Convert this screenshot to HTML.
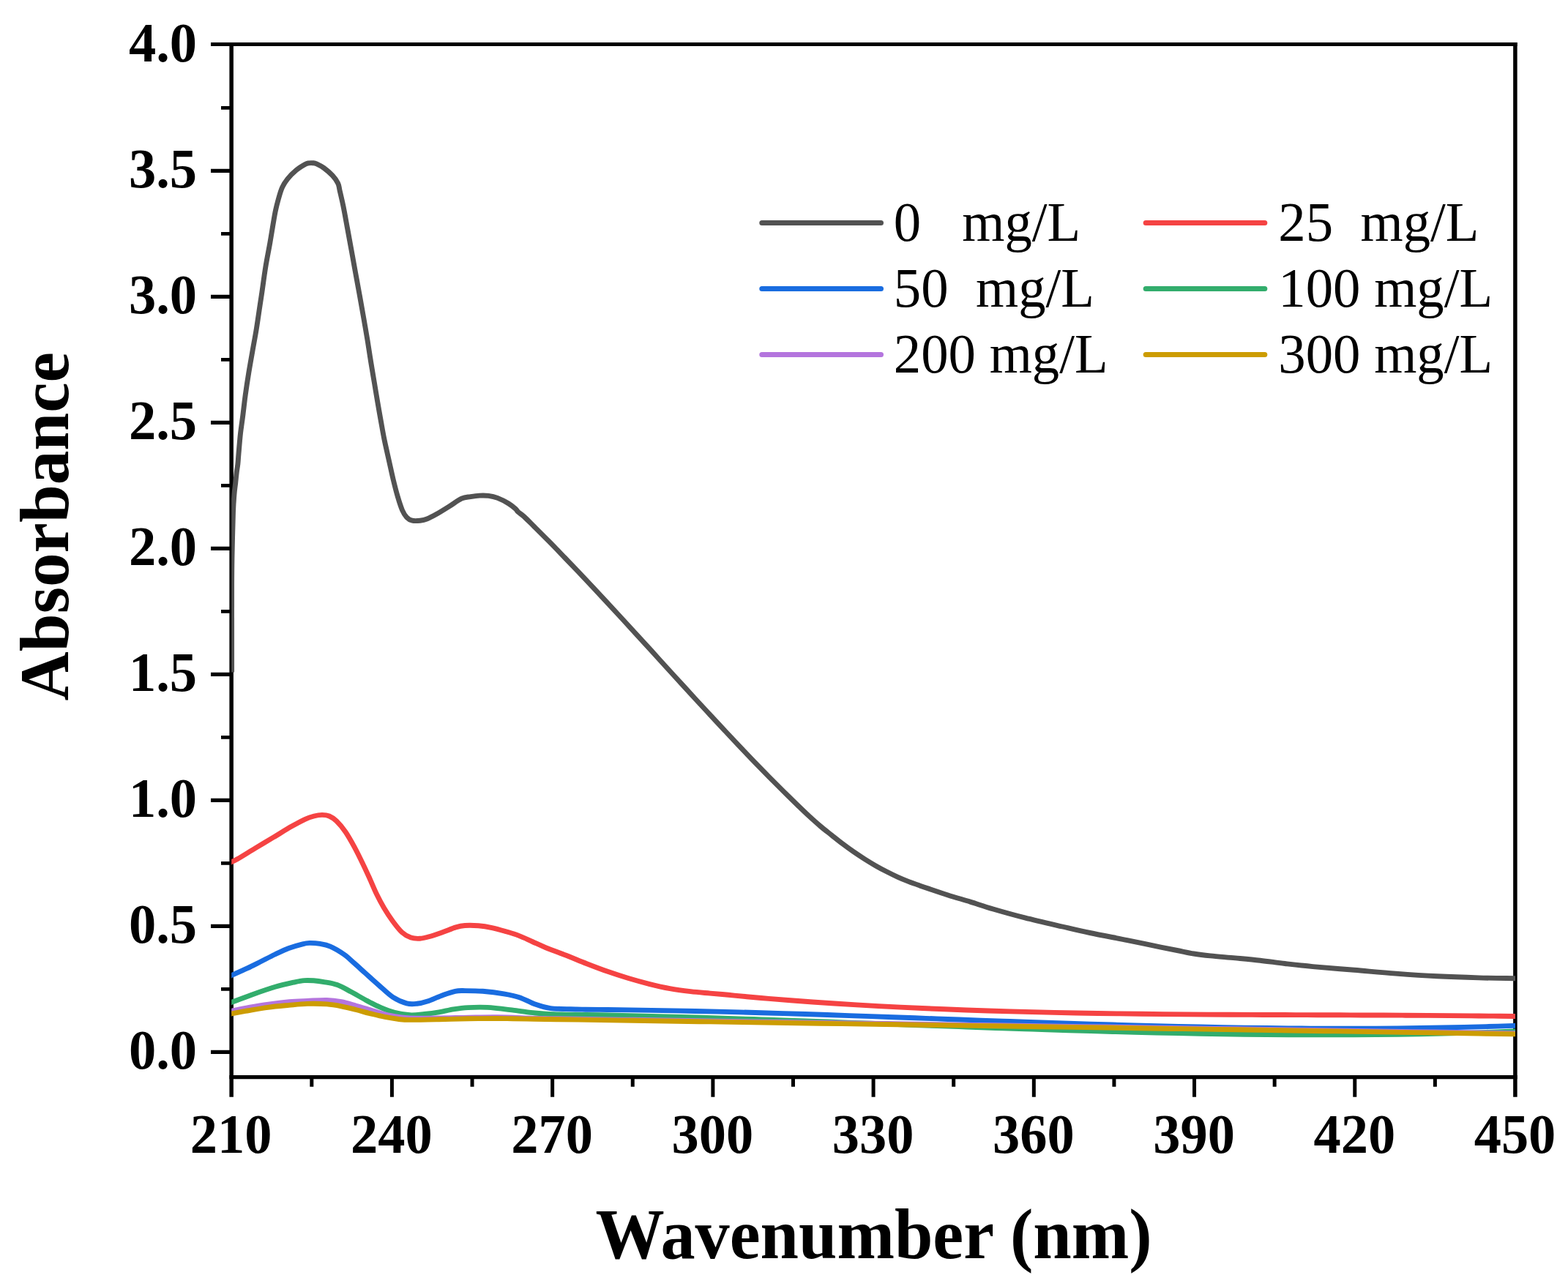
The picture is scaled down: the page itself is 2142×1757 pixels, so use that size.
<!DOCTYPE html>
<html><head><meta charset="utf-8"><title>Absorbance spectra</title>
<style>
html,body{margin:0;padding:0;background:#fff;}
body{width:2142px;height:1757px;overflow:hidden;}
svg{display:block;}
</style></head><body>
<svg xmlns="http://www.w3.org/2000/svg" width="2142" height="1757" viewBox="0 0 2142 1757">
<rect x="0" y="0" width="2142" height="1757" fill="#fff"/>
<path d="M288,60.5H2072.65M313.4,1471.6H2072.65" stroke="#000" stroke-width="5.1" fill="none"/>
<path d="M316.15,57.95V1498.8M2069.90,57.95V1498.8" stroke="#000" stroke-width="5.5" fill="none"/>
<path d="M288,1437.40H316.15M288,1265.40H316.15M288,1093.40H316.15M288,921.40H316.15M288,749.40H316.15M288,577.40H316.15M288,405.40H316.15M288,233.40H316.15" stroke="#000" stroke-width="5.3" fill="none"/>
<path d="M302,1351.40H316.15M302,1179.40H316.15M302,1007.40H316.15M302,835.40H316.15M302,663.40H316.15M302,491.40H316.15M302,319.40H316.15M302,147.40H316.15" stroke="#000" stroke-width="4.9" fill="none"/>
<path d="M425.81,1471.6V1484.70M535.42,1471.6V1498.80M645.04,1471.6V1484.70M754.65,1471.6V1498.80M864.26,1471.6V1484.70M973.88,1471.6V1498.80M1083.49,1471.6V1484.70M1193.10,1471.6V1498.80M1302.71,1471.6V1484.70M1412.33,1471.6V1498.80M1521.94,1471.6V1484.70M1631.55,1471.6V1498.80M1741.16,1471.6V1484.70M1850.78,1471.6V1498.80M1960.39,1471.6V1484.70" stroke="#000" stroke-width="5.0" fill="none"/>
<defs><clipPath id="pc"><rect x="316.20" y="60.50" width="1753.80" height="1411.00"/></clipPath></defs>
<g clip-path="url(#pc)">
<path d="M316.60,918.50C316.60,908.75 316.60,879.75 316.60,860.00C316.60,840.25 316.53,816.67 316.60,800.00C316.67,783.33 316.68,776.67 317.00,760.00C317.32,743.33 318.00,714.17 318.50,700.00C319.00,685.83 319.47,681.67 320.00,675.00C320.53,668.33 321.15,665.00 321.70,660.00C322.25,655.00 322.77,649.37 323.30,645.00C323.83,640.63 324.45,637.97 324.90,633.80C325.35,629.63 325.40,626.93 326.00,620.00C326.60,613.07 327.58,600.57 328.50,592.20C329.42,583.83 330.38,578.53 331.50,569.80C332.62,561.07 333.83,549.78 335.20,539.80C336.57,529.82 338.08,519.88 339.70,509.90C341.32,499.92 343.15,489.88 344.90,479.90C346.65,469.92 348.57,459.98 350.20,450.00C351.83,440.02 353.45,428.30 354.70,420.00C355.95,411.70 356.33,409.50 357.70,400.20C359.07,390.90 361.03,375.68 362.90,364.20C364.77,352.72 367.15,341.28 368.90,331.30C370.65,321.32 372.15,311.55 373.40,304.30C374.65,297.05 375.28,293.03 376.40,287.80C377.52,282.57 378.60,278.13 380.10,272.90C381.60,267.67 383.27,261.15 385.40,256.40C387.53,251.65 389.67,248.40 392.90,244.40C396.13,240.40 400.82,235.70 404.80,232.40C408.78,229.10 414.02,226.18 416.80,224.60C419.58,223.02 419.72,223.22 421.50,222.90C423.28,222.58 425.67,222.55 427.50,222.70C429.33,222.85 430.03,222.68 432.50,223.80C434.97,224.92 438.67,226.72 442.30,229.40C445.93,232.08 451.07,236.40 454.30,239.90C457.53,243.40 460.05,246.93 461.70,250.40C463.35,253.87 462.95,255.27 464.20,260.70C465.45,266.13 467.47,274.45 469.20,283.00C470.93,291.55 472.78,302.17 474.60,312.00C476.42,321.83 478.27,331.92 480.10,342.00C481.93,352.08 483.75,362.33 485.60,372.50C487.45,382.67 489.35,392.75 491.20,403.00C493.05,413.25 494.87,423.50 496.70,434.00C498.53,444.50 500.53,455.85 502.20,466.00C503.87,476.15 505.20,485.60 506.70,494.90C508.20,504.20 509.70,512.82 511.20,521.80C512.70,530.78 514.20,540.05 515.70,548.80C517.20,557.55 518.67,565.77 520.20,574.30C521.73,582.83 522.98,590.60 524.90,600.00C526.82,609.40 529.65,621.48 531.70,630.70C533.75,639.92 535.27,647.32 537.20,655.30C539.13,663.28 541.25,671.65 543.30,678.60C545.35,685.55 547.45,692.28 549.50,697.00C551.55,701.72 553.35,704.53 555.60,706.90C557.85,709.27 559.93,710.48 563.00,711.20C566.07,711.92 570.52,711.62 574.00,711.20C577.48,710.78 580.22,710.13 583.90,708.70C587.58,707.27 591.20,705.37 596.10,702.60C601.00,699.83 607.57,695.68 613.30,692.10C619.03,688.52 625.58,683.35 630.50,681.10C635.42,678.85 638.70,679.27 642.80,678.60C646.90,677.93 651.00,677.30 655.10,677.10C659.20,676.90 663.30,676.85 667.40,677.40C671.50,677.95 675.20,678.67 679.70,680.40C684.20,682.13 690.32,685.33 694.40,687.80C698.48,690.27 701.95,693.25 704.20,695.20C706.45,697.15 705.93,697.72 707.90,699.50C709.87,701.28 712.32,702.53 716.00,705.90C719.68,709.27 724.33,714.07 730.00,719.70C735.67,725.33 743.33,732.93 750.00,739.70C756.67,746.47 763.33,753.40 770.00,760.30C776.67,767.20 783.33,774.10 790.00,781.10C796.67,788.10 803.33,795.18 810.00,802.30C816.67,809.42 823.33,816.60 830.00,823.80C836.67,831.00 843.33,838.25 850.00,845.50C856.67,852.75 863.33,860.02 870.00,867.30C876.67,874.58 883.33,881.88 890.00,889.20C896.67,896.52 903.33,903.88 910.00,911.20C916.67,918.52 923.33,925.80 930.00,933.10C936.67,940.40 943.33,947.75 950.00,955.00C956.67,962.25 963.33,969.42 970.00,976.60C976.67,983.78 983.33,990.97 990.00,998.10C996.67,1005.23 1003.33,1012.37 1010.00,1019.40C1016.67,1026.43 1023.33,1033.40 1030.00,1040.30C1036.67,1047.20 1043.33,1054.03 1050.00,1060.80C1056.67,1067.57 1063.33,1074.28 1070.00,1080.90C1076.67,1087.52 1084.17,1094.85 1090.00,1100.50C1095.83,1106.15 1099.83,1110.05 1105.00,1114.80C1110.17,1119.55 1115.83,1124.63 1121.00,1129.00C1126.17,1133.37 1131.00,1137.03 1136.00,1141.00C1141.00,1144.97 1146.00,1149.02 1151.00,1152.80C1156.00,1156.58 1161.00,1160.23 1166.00,1163.70C1171.00,1167.17 1176.00,1170.43 1181.00,1173.60C1186.00,1176.77 1191.00,1179.83 1196.00,1182.70C1201.00,1185.57 1206.00,1188.23 1211.00,1190.80C1216.00,1193.37 1221.00,1195.83 1226.00,1198.10C1231.00,1200.37 1236.00,1202.45 1241.00,1204.40C1246.00,1206.35 1247.12,1206.75 1256.00,1209.80C1264.88,1212.85 1282.72,1218.98 1294.30,1222.70C1305.88,1226.42 1315.10,1228.88 1325.50,1232.10C1335.90,1235.32 1344.28,1238.37 1356.70,1242.00C1369.12,1245.63 1384.25,1249.90 1400.00,1253.90C1415.75,1257.90 1436.38,1262.57 1451.20,1266.00C1466.02,1269.43 1474.10,1271.40 1488.90,1274.50C1503.70,1277.60 1525.82,1281.73 1540.00,1284.60C1554.18,1287.47 1562.67,1289.38 1574.00,1291.70C1585.33,1294.02 1598.55,1296.62 1608.00,1298.50C1617.45,1300.38 1623.13,1301.77 1630.70,1303.00C1638.27,1304.23 1643.95,1304.92 1653.40,1305.90C1662.85,1306.88 1676.07,1307.85 1687.40,1308.90C1698.73,1309.95 1710.07,1310.93 1721.40,1312.20C1732.73,1313.47 1743.40,1315.10 1755.40,1316.50C1767.40,1317.90 1777.63,1319.13 1793.40,1320.60C1809.17,1322.07 1831.12,1323.72 1850.00,1325.30C1868.88,1326.88 1887.80,1328.68 1906.70,1330.10C1925.60,1331.52 1944.50,1332.83 1963.40,1333.80C1982.30,1334.77 2002.67,1335.42 2020.10,1335.90C2037.53,1336.38 2059.18,1336.55 2068.00,1336.70C2076.82,1336.85 2072.17,1336.77 2073.00,1336.78" fill="none" stroke="#525252" stroke-width="6.90" stroke-linejoin="round" stroke-linecap="butt"/>
<path d="M312.60,1179.15C313.27,1178.84 314.60,1178.22 316.60,1177.30C318.60,1176.38 319.18,1176.72 324.60,1173.60C330.02,1170.48 340.92,1163.55 349.10,1158.60C357.28,1153.65 365.50,1148.82 373.70,1143.90C381.90,1138.98 391.13,1133.20 398.30,1129.10C405.47,1125.00 411.58,1121.65 416.70,1119.30C421.82,1116.95 425.12,1115.98 429.00,1115.00C432.88,1114.02 436.53,1113.40 440.00,1113.40C443.47,1113.40 446.52,1113.60 449.80,1115.00C453.08,1116.40 456.02,1118.22 459.70,1121.80C463.38,1125.38 467.82,1130.57 471.90,1136.50C475.98,1142.43 480.10,1149.83 484.20,1157.40C488.30,1164.97 493.05,1174.80 496.50,1181.90C499.95,1189.00 501.87,1193.30 504.90,1200.00C507.93,1206.70 511.42,1215.35 514.70,1222.10C517.98,1228.85 520.92,1234.35 524.60,1240.50C528.28,1246.65 532.72,1253.47 536.80,1259.00C540.88,1264.53 545.00,1270.02 549.10,1273.70C553.20,1277.38 557.30,1279.67 561.40,1281.10C565.50,1282.53 569.60,1282.52 573.70,1282.30C577.80,1282.08 580.88,1281.23 586.00,1279.80C591.12,1278.37 598.27,1275.85 604.40,1273.70C610.53,1271.55 617.68,1268.43 622.80,1266.90C627.92,1265.37 629.98,1264.85 635.10,1264.50C640.22,1264.15 647.35,1264.28 653.50,1264.80C659.65,1265.32 665.85,1266.32 672.00,1267.60C678.15,1268.88 684.27,1270.70 690.40,1272.50C696.53,1274.30 702.67,1276.07 708.80,1278.40C714.93,1280.73 721.07,1283.78 727.20,1286.50C733.33,1289.22 737.90,1291.57 745.60,1294.70C753.30,1297.83 764.05,1301.63 773.40,1305.30C782.75,1308.97 792.27,1313.03 801.70,1316.70C811.13,1320.37 820.55,1324.00 830.00,1327.30C839.45,1330.60 848.95,1333.67 858.40,1336.50C867.85,1339.33 877.25,1341.95 886.70,1344.30C896.15,1346.65 905.65,1348.88 915.10,1350.60C924.55,1352.32 934.25,1353.52 943.40,1354.60C952.55,1355.68 961.40,1356.32 970.00,1357.10C978.60,1357.88 986.67,1358.53 995.00,1359.30C1003.33,1360.07 1010.83,1360.88 1020.00,1361.72C1029.17,1362.56 1040.00,1363.49 1050.00,1364.33C1060.00,1365.17 1070.00,1365.97 1080.00,1366.74C1090.00,1367.51 1100.00,1368.26 1110.00,1368.97C1120.00,1369.68 1130.00,1370.36 1140.00,1371.01C1150.00,1371.66 1160.00,1372.28 1170.00,1372.88C1180.00,1373.48 1190.00,1374.05 1200.00,1374.59C1210.00,1375.13 1220.00,1375.65 1230.00,1376.14C1240.00,1376.63 1250.00,1377.10 1260.00,1377.55C1270.00,1378.00 1280.00,1378.42 1290.00,1378.82C1300.00,1379.22 1310.00,1379.60 1320.00,1379.96C1330.00,1380.32 1340.00,1380.65 1350.00,1380.97C1360.00,1381.29 1370.00,1381.59 1380.00,1381.87C1390.00,1382.15 1400.00,1382.42 1410.00,1382.67C1420.00,1382.92 1430.00,1383.14 1440.00,1383.36C1450.00,1383.57 1460.00,1383.77 1470.00,1383.96C1480.00,1384.15 1490.00,1384.32 1500.00,1384.48C1510.00,1384.64 1520.00,1384.78 1530.00,1384.92C1540.00,1385.06 1550.00,1385.18 1560.00,1385.30C1570.00,1385.41 1580.00,1385.52 1590.00,1385.61C1600.00,1385.70 1610.00,1385.78 1620.00,1385.86C1630.00,1385.94 1640.00,1386.01 1650.00,1386.08C1660.00,1386.14 1670.00,1386.20 1680.00,1386.25C1690.00,1386.30 1700.00,1386.35 1710.00,1386.39C1720.00,1386.43 1730.00,1386.47 1740.00,1386.51C1750.00,1386.55 1760.00,1386.58 1770.00,1386.62C1780.00,1386.65 1790.00,1386.69 1800.00,1386.72C1810.00,1386.75 1820.00,1386.78 1830.00,1386.82C1840.00,1386.86 1850.00,1386.89 1860.00,1386.93C1870.00,1386.97 1880.00,1387.01 1890.00,1387.05C1900.00,1387.09 1910.00,1387.14 1920.00,1387.19C1930.00,1387.24 1940.00,1387.30 1950.00,1387.37C1960.00,1387.44 1970.00,1387.51 1980.00,1387.59C1990.00,1387.67 2000.00,1387.75 2010.00,1387.85C2020.00,1387.95 2030.33,1388.06 2040.00,1388.17C2049.67,1388.28 2062.50,1388.45 2068.00,1388.52C2073.50,1388.59 2072.17,1388.57 2073.00,1388.58" fill="none" stroke="#F54343" stroke-width="6.90" stroke-linejoin="round" stroke-linecap="butt"/>
<path d="M312.60,1334.19C313.27,1333.89 312.40,1334.28 316.60,1332.40C320.80,1330.52 331.12,1326.05 337.80,1322.90C344.48,1319.75 350.40,1316.65 356.70,1313.50C363.00,1310.35 369.30,1307.00 375.60,1304.00C381.90,1301.00 388.20,1297.87 394.50,1295.50C400.80,1293.13 408.68,1290.98 413.40,1289.80C418.12,1288.62 418.87,1288.47 422.80,1288.40C426.73,1288.33 432.27,1288.62 437.00,1289.40C441.73,1290.18 445.70,1290.67 451.20,1293.10C456.70,1295.53 464.50,1300.15 470.00,1304.00C475.50,1307.85 479.37,1311.95 484.20,1316.20C489.03,1320.45 493.40,1324.48 499.00,1329.50C504.60,1334.52 511.52,1340.82 517.80,1346.30C524.08,1351.78 530.40,1358.30 536.70,1362.40C543.00,1366.50 550.10,1369.42 555.60,1370.90C561.10,1372.38 564.98,1371.78 569.70,1371.30C574.42,1370.82 578.38,1369.80 583.90,1368.00C589.42,1366.20 596.50,1362.78 602.80,1360.50C609.10,1358.22 616.18,1355.45 621.70,1354.30C627.22,1353.15 629.60,1353.60 635.90,1353.60C642.20,1353.60 650.77,1353.60 659.50,1354.30C668.23,1355.00 679.95,1356.40 688.30,1357.80C696.65,1359.20 702.50,1360.33 709.60,1362.70C716.70,1365.07 723.82,1369.52 730.90,1372.00C737.98,1374.48 742.67,1376.43 752.10,1377.60C761.53,1378.77 779.52,1378.73 787.50,1379.00C795.48,1379.27 792.92,1379.11 800.00,1379.20C807.08,1379.29 820.00,1379.42 830.00,1379.54C840.00,1379.66 850.00,1379.78 860.00,1379.92C870.00,1380.06 880.00,1380.20 890.00,1380.36C900.00,1380.52 910.00,1380.70 920.00,1380.88C930.00,1381.06 940.00,1381.25 950.00,1381.46C960.00,1381.67 970.00,1381.90 980.00,1382.14C990.00,1382.38 1000.00,1382.63 1010.00,1382.89C1020.00,1383.15 1030.00,1383.43 1040.00,1383.72C1050.00,1384.01 1060.00,1384.30 1070.00,1384.61C1080.00,1384.92 1090.00,1385.23 1100.00,1385.56C1110.00,1385.88 1120.00,1386.22 1130.00,1386.56C1140.00,1386.90 1150.00,1387.24 1160.00,1387.59C1170.00,1387.94 1180.00,1388.29 1190.00,1388.65C1200.00,1389.01 1210.00,1389.37 1220.00,1389.73C1230.00,1390.09 1240.00,1390.46 1250.00,1390.82C1260.00,1391.18 1270.00,1391.55 1280.00,1391.91C1290.00,1392.27 1300.00,1392.64 1310.00,1393.00C1320.00,1393.36 1330.00,1393.72 1340.00,1394.08C1350.00,1394.44 1360.00,1394.79 1370.00,1395.14C1380.00,1395.49 1390.00,1395.85 1400.00,1396.19C1410.00,1396.53 1420.00,1396.87 1430.00,1397.20C1440.00,1397.53 1450.00,1397.86 1460.00,1398.18C1470.00,1398.50 1480.00,1398.82 1490.00,1399.13C1500.00,1399.44 1510.00,1399.73 1520.00,1400.02C1530.00,1400.31 1540.00,1400.60 1550.00,1400.87C1560.00,1401.14 1570.00,1401.41 1580.00,1401.66C1590.00,1401.91 1600.00,1402.16 1610.00,1402.39C1620.00,1402.62 1630.00,1402.83 1640.00,1403.04C1650.00,1403.25 1660.00,1403.45 1670.00,1403.63C1680.00,1403.81 1690.00,1403.98 1700.00,1404.13C1710.00,1404.28 1720.00,1404.42 1730.00,1404.54C1740.00,1404.66 1750.00,1404.77 1760.00,1404.86C1770.00,1404.95 1780.00,1405.03 1790.00,1405.09C1800.00,1405.15 1810.00,1405.19 1820.00,1405.21C1830.00,1405.23 1840.00,1405.23 1850.00,1405.21C1860.00,1405.19 1870.00,1405.16 1880.00,1405.10C1890.00,1405.04 1900.00,1404.97 1910.00,1404.87C1920.00,1404.77 1930.00,1404.65 1940.00,1404.51C1950.00,1404.37 1960.00,1404.21 1970.00,1404.02C1980.00,1403.83 1990.00,1403.62 2000.00,1403.38C2010.00,1403.14 2018.67,1402.93 2030.00,1402.60C2041.33,1402.27 2060.83,1401.62 2068.00,1401.39C2075.17,1401.16 2072.17,1401.26 2073.00,1401.23" fill="none" stroke="#196CE0" stroke-width="6.90" stroke-linejoin="round" stroke-linecap="butt"/>
<path d="M312.60,1370.80C313.27,1370.55 311.53,1371.20 316.60,1369.30C321.67,1367.40 333.10,1362.90 343.00,1359.40C352.90,1355.90 366.07,1351.23 376.00,1348.30C385.93,1345.37 395.97,1343.25 402.60,1341.80C409.23,1340.35 411.48,1339.93 415.80,1339.60C420.12,1339.27 424.08,1339.47 428.50,1339.80C432.92,1340.13 436.95,1340.63 442.30,1341.60C447.65,1342.57 454.40,1343.37 460.60,1345.60C466.80,1347.83 473.03,1351.57 479.50,1355.00C485.97,1358.43 492.78,1362.67 499.40,1366.20C506.02,1369.73 512.60,1373.33 519.20,1376.20C525.80,1379.07 532.20,1381.63 539.00,1383.40C545.80,1385.17 553.20,1386.45 560.00,1386.80C566.80,1387.15 573.18,1386.15 579.80,1385.50C586.42,1384.85 593.08,1384.00 599.70,1382.90C606.32,1381.80 612.88,1379.95 619.50,1378.90C626.12,1377.85 631.68,1377.02 639.40,1376.60C647.12,1376.18 655.28,1375.77 665.80,1376.40C676.32,1377.03 691.65,1379.13 702.50,1380.40C713.35,1381.67 721.92,1383.10 730.90,1384.00C739.88,1384.90 749.32,1385.45 756.40,1385.80C763.48,1386.15 766.13,1386.00 773.40,1386.10C780.67,1386.20 790.57,1386.26 800.00,1386.41C809.43,1386.56 820.00,1386.79 830.00,1387.00C840.00,1387.21 850.00,1387.44 860.00,1387.67C870.00,1387.90 880.00,1388.15 890.00,1388.40C900.00,1388.65 910.00,1388.91 920.00,1389.19C930.00,1389.47 940.00,1389.76 950.00,1390.05C960.00,1390.34 970.00,1390.64 980.00,1390.95C990.00,1391.26 1000.00,1391.58 1010.00,1391.90C1020.00,1392.22 1030.00,1392.56 1040.00,1392.89C1050.00,1393.23 1060.00,1393.56 1070.00,1393.91C1080.00,1394.26 1090.00,1394.62 1100.00,1394.97C1110.00,1395.33 1120.00,1395.68 1130.00,1396.04C1140.00,1396.40 1150.00,1396.76 1160.00,1397.13C1170.00,1397.50 1180.00,1397.87 1190.00,1398.24C1200.00,1398.61 1210.00,1398.98 1220.00,1399.35C1230.00,1399.72 1240.00,1400.09 1250.00,1400.46C1260.00,1400.83 1270.00,1401.19 1280.00,1401.56C1290.00,1401.92 1300.00,1402.29 1310.00,1402.65C1320.00,1403.01 1330.00,1403.38 1340.00,1403.73C1350.00,1404.09 1360.00,1404.43 1370.00,1404.78C1380.00,1405.12 1390.00,1405.46 1400.00,1405.80C1410.00,1406.13 1420.00,1406.47 1430.00,1406.79C1440.00,1407.11 1450.00,1407.43 1460.00,1407.74C1470.00,1408.05 1480.00,1408.35 1490.00,1408.64C1500.00,1408.93 1510.00,1409.22 1520.00,1409.49C1530.00,1409.76 1540.00,1410.03 1550.00,1410.28C1560.00,1410.53 1570.00,1410.78 1580.00,1411.01C1590.00,1411.24 1600.00,1411.46 1610.00,1411.67C1620.00,1411.88 1630.00,1412.07 1640.00,1412.25C1650.00,1412.43 1660.00,1412.61 1670.00,1412.76C1680.00,1412.91 1690.00,1413.06 1700.00,1413.18C1710.00,1413.30 1720.00,1413.41 1730.00,1413.50C1740.00,1413.59 1750.00,1413.67 1760.00,1413.73C1770.00,1413.79 1780.00,1413.84 1790.00,1413.86C1800.00,1413.88 1810.00,1413.88 1820.00,1413.87C1830.00,1413.86 1840.00,1413.82 1850.00,1413.77C1860.00,1413.72 1870.00,1413.64 1880.00,1413.55C1890.00,1413.45 1900.00,1413.34 1910.00,1413.20C1920.00,1413.06 1930.00,1412.90 1940.00,1412.72C1950.00,1412.54 1960.00,1412.34 1970.00,1412.11C1980.00,1411.88 1990.00,1411.63 2000.00,1411.35C2010.00,1411.07 2018.67,1410.82 2030.00,1410.44C2041.33,1410.06 2060.83,1409.32 2068.00,1409.06C2075.17,1408.80 2072.17,1408.91 2073.00,1408.88" fill="none" stroke="#32AD6C" stroke-width="6.90" stroke-linejoin="round" stroke-linecap="butt"/>
<path d="M312.60,1382.00C313.27,1381.87 312.03,1382.12 316.60,1381.20C321.17,1380.28 331.65,1378.02 340.00,1376.50C348.35,1374.98 357.53,1373.38 366.70,1372.10C375.87,1370.82 386.12,1369.58 395.00,1368.80C403.88,1368.02 411.42,1367.80 420.00,1367.40C428.58,1367.00 438.78,1366.18 446.50,1366.40C454.22,1366.62 459.70,1367.43 466.30,1368.70C472.90,1369.97 479.48,1372.13 486.10,1374.00C492.72,1375.87 499.38,1377.92 506.00,1379.90C512.62,1381.88 519.30,1384.30 525.80,1385.90C532.30,1387.50 539.30,1388.65 545.00,1389.50C550.70,1390.35 550.83,1390.75 560.00,1391.00C569.17,1391.25 586.67,1391.13 600.00,1391.00C613.33,1390.87 626.67,1390.40 640.00,1390.20C653.33,1390.00 665.00,1389.63 680.00,1389.80C695.00,1389.97 716.67,1390.92 730.00,1391.24C743.33,1391.56 750.00,1391.55 760.00,1391.70C770.00,1391.86 780.00,1392.02 790.00,1392.17C800.00,1392.33 810.00,1392.48 820.00,1392.63C830.00,1392.78 840.00,1392.94 850.00,1393.09C860.00,1393.24 870.00,1393.40 880.00,1393.55C890.00,1393.70 900.00,1393.86 910.00,1394.01C920.00,1394.16 930.00,1394.31 940.00,1394.46C950.00,1394.61 960.00,1394.77 970.00,1394.92C980.00,1395.07 990.00,1395.22 1000.00,1395.37C1010.00,1395.52 1020.00,1395.68 1030.00,1395.83C1040.00,1395.98 1050.00,1396.13 1060.00,1396.28C1070.00,1396.43 1080.00,1396.59 1090.00,1396.74C1100.00,1396.89 1110.00,1397.04 1120.00,1397.19C1130.00,1397.34 1140.00,1397.49 1150.00,1397.64C1160.00,1397.79 1170.00,1397.94 1180.00,1398.09C1190.00,1398.24 1200.00,1398.39 1210.00,1398.54C1220.00,1398.69 1230.00,1398.85 1240.00,1399.00C1250.00,1399.15 1260.00,1399.30 1270.00,1399.45C1280.00,1399.60 1290.00,1399.75 1300.00,1399.90C1310.00,1400.05 1320.00,1400.20 1330.00,1400.35C1340.00,1400.50 1350.00,1400.65 1360.00,1400.80C1370.00,1400.95 1380.00,1401.10 1390.00,1401.25C1400.00,1401.40 1410.00,1401.56 1420.00,1401.71C1430.00,1401.86 1440.00,1402.01 1450.00,1402.16C1460.00,1402.31 1470.00,1402.47 1480.00,1402.62C1490.00,1402.77 1500.00,1402.92 1510.00,1403.07C1520.00,1403.22 1530.00,1403.38 1540.00,1403.53C1550.00,1403.68 1560.00,1403.83 1570.00,1403.98C1580.00,1404.13 1590.00,1404.29 1600.00,1404.44C1610.00,1404.59 1620.00,1404.75 1630.00,1404.90C1640.00,1405.05 1650.00,1405.21 1660.00,1405.36C1670.00,1405.51 1680.00,1405.66 1690.00,1405.82C1700.00,1405.97 1710.00,1406.13 1720.00,1406.29C1730.00,1406.44 1740.00,1406.60 1750.00,1406.75C1760.00,1406.90 1770.00,1407.06 1780.00,1407.22C1790.00,1407.38 1800.00,1407.53 1810.00,1407.69C1820.00,1407.85 1830.00,1408.00 1840.00,1408.16C1850.00,1408.32 1860.00,1408.47 1870.00,1408.63C1880.00,1408.79 1890.00,1408.94 1900.00,1409.10C1910.00,1409.26 1920.00,1409.42 1930.00,1409.58C1940.00,1409.74 1950.00,1409.90 1960.00,1410.06C1970.00,1410.22 1980.00,1410.38 1990.00,1410.54C2000.00,1410.70 2010.00,1410.86 2020.00,1411.02C2030.00,1411.18 2042.00,1411.38 2050.00,1411.51C2058.00,1411.64 2064.17,1411.74 2068.00,1411.80C2071.83,1411.86 2072.17,1411.87 2073.00,1411.88" fill="none" stroke="#B475DE" stroke-width="6.90" stroke-linejoin="round" stroke-linecap="butt"/>
<path d="M312.60,1385.52C313.27,1385.40 312.40,1385.55 316.60,1384.80C320.80,1384.05 329.55,1382.42 337.80,1381.00C346.05,1379.58 356.65,1377.57 366.10,1376.30C375.55,1375.03 385.52,1374.22 394.50,1373.40C403.48,1372.58 411.33,1371.65 420.00,1371.40C428.67,1371.15 438.78,1371.33 446.50,1371.90C454.22,1372.47 459.70,1373.53 466.30,1374.80C472.90,1376.07 479.48,1377.83 486.10,1379.50C492.72,1381.17 499.38,1383.15 506.00,1384.80C512.62,1386.45 519.30,1388.12 525.80,1389.40C532.30,1390.68 539.30,1391.83 545.00,1392.50C550.70,1393.17 550.88,1393.35 560.00,1393.40C569.12,1393.45 586.47,1393.07 599.70,1392.80C612.93,1392.53 626.18,1392.02 639.40,1391.80C652.62,1391.58 668.90,1391.51 679.00,1391.50C689.10,1391.49 691.50,1391.65 700.00,1391.77C708.50,1391.89 720.00,1392.09 730.00,1392.24C740.00,1392.39 750.00,1392.55 760.00,1392.70C770.00,1392.86 780.00,1393.02 790.00,1393.17C800.00,1393.33 810.00,1393.48 820.00,1393.63C830.00,1393.78 840.00,1393.94 850.00,1394.09C860.00,1394.24 870.00,1394.40 880.00,1394.55C890.00,1394.70 900.00,1394.86 910.00,1395.01C920.00,1395.16 930.00,1395.31 940.00,1395.46C950.00,1395.61 960.00,1395.77 970.00,1395.92C980.00,1396.07 990.00,1396.22 1000.00,1396.37C1010.00,1396.52 1020.00,1396.68 1030.00,1396.83C1040.00,1396.98 1050.00,1397.13 1060.00,1397.28C1070.00,1397.43 1080.00,1397.59 1090.00,1397.74C1100.00,1397.89 1110.00,1398.04 1120.00,1398.19C1130.00,1398.34 1140.00,1398.49 1150.00,1398.64C1160.00,1398.79 1170.00,1398.94 1180.00,1399.09C1190.00,1399.24 1200.00,1399.39 1210.00,1399.54C1220.00,1399.69 1230.00,1399.85 1240.00,1400.00C1250.00,1400.15 1260.00,1400.30 1270.00,1400.45C1280.00,1400.60 1290.00,1400.75 1300.00,1400.90C1310.00,1401.05 1320.00,1401.20 1330.00,1401.35C1340.00,1401.50 1350.00,1401.65 1360.00,1401.80C1370.00,1401.95 1380.00,1402.10 1390.00,1402.25C1400.00,1402.40 1410.00,1402.56 1420.00,1402.71C1430.00,1402.86 1440.00,1403.01 1450.00,1403.16C1460.00,1403.31 1470.00,1403.47 1480.00,1403.62C1490.00,1403.77 1500.00,1403.92 1510.00,1404.07C1520.00,1404.22 1530.00,1404.38 1540.00,1404.53C1550.00,1404.68 1560.00,1404.83 1570.00,1404.98C1580.00,1405.13 1590.00,1405.29 1600.00,1405.44C1610.00,1405.59 1620.00,1405.75 1630.00,1405.90C1640.00,1406.05 1650.00,1406.21 1660.00,1406.36C1670.00,1406.51 1680.00,1406.66 1690.00,1406.82C1700.00,1406.97 1710.00,1407.13 1720.00,1407.29C1730.00,1407.44 1740.00,1407.60 1750.00,1407.75C1760.00,1407.90 1770.00,1408.06 1780.00,1408.22C1790.00,1408.38 1800.00,1408.53 1810.00,1408.69C1820.00,1408.85 1830.00,1409.00 1840.00,1409.16C1850.00,1409.32 1860.00,1409.47 1870.00,1409.63C1880.00,1409.79 1890.00,1409.94 1900.00,1410.10C1910.00,1410.26 1920.00,1410.42 1930.00,1410.58C1940.00,1410.74 1950.00,1410.90 1960.00,1411.06C1970.00,1411.22 1980.00,1411.38 1990.00,1411.54C2000.00,1411.70 2010.00,1411.86 2020.00,1412.02C2030.00,1412.18 2042.00,1412.38 2050.00,1412.51C2058.00,1412.64 2064.17,1412.74 2068.00,1412.80C2071.83,1412.86 2072.17,1412.87 2073.00,1412.88" fill="none" stroke="#CC9C02" stroke-width="6.90" stroke-linejoin="round" stroke-linecap="butt"/>
</g>
<text transform="translate(269,1460.00) scale(1,1.01)" text-anchor="end" style="font-family:&quot;Liberation Serif&quot;,&quot;Times New Roman&quot;,serif;font-weight:bold;font-size:74.5px">0.0</text>
<text transform="translate(269,1288.00) scale(1,1.01)" text-anchor="end" style="font-family:&quot;Liberation Serif&quot;,&quot;Times New Roman&quot;,serif;font-weight:bold;font-size:74.5px">0.5</text>
<text transform="translate(269,1116.00) scale(1,1.01)" text-anchor="end" style="font-family:&quot;Liberation Serif&quot;,&quot;Times New Roman&quot;,serif;font-weight:bold;font-size:74.5px">1.0</text>
<text transform="translate(269,944.00) scale(1,1.01)" text-anchor="end" style="font-family:&quot;Liberation Serif&quot;,&quot;Times New Roman&quot;,serif;font-weight:bold;font-size:74.5px">1.5</text>
<text transform="translate(269,772.00) scale(1,1.01)" text-anchor="end" style="font-family:&quot;Liberation Serif&quot;,&quot;Times New Roman&quot;,serif;font-weight:bold;font-size:74.5px">2.0</text>
<text transform="translate(269,600.00) scale(1,1.01)" text-anchor="end" style="font-family:&quot;Liberation Serif&quot;,&quot;Times New Roman&quot;,serif;font-weight:bold;font-size:74.5px">2.5</text>
<text transform="translate(269,428.00) scale(1,1.01)" text-anchor="end" style="font-family:&quot;Liberation Serif&quot;,&quot;Times New Roman&quot;,serif;font-weight:bold;font-size:74.5px">3.0</text>
<text transform="translate(269,256.00) scale(1,1.01)" text-anchor="end" style="font-family:&quot;Liberation Serif&quot;,&quot;Times New Roman&quot;,serif;font-weight:bold;font-size:74.5px">3.5</text>
<text transform="translate(269,84.00) scale(1,1.01)" text-anchor="end" style="font-family:&quot;Liberation Serif&quot;,&quot;Times New Roman&quot;,serif;font-weight:bold;font-size:74.5px">4.0</text>
<text transform="translate(315.70,1575.4) scale(1,1.035)" text-anchor="middle" style="font-family:&quot;Liberation Serif&quot;,&quot;Times New Roman&quot;,serif;font-weight:bold;font-size:74.5px">210</text>
<text transform="translate(534.92,1575.4) scale(1,1.035)" text-anchor="middle" style="font-family:&quot;Liberation Serif&quot;,&quot;Times New Roman&quot;,serif;font-weight:bold;font-size:74.5px">240</text>
<text transform="translate(754.15,1575.4) scale(1,1.035)" text-anchor="middle" style="font-family:&quot;Liberation Serif&quot;,&quot;Times New Roman&quot;,serif;font-weight:bold;font-size:74.5px">270</text>
<text transform="translate(973.38,1575.4) scale(1,1.035)" text-anchor="middle" style="font-family:&quot;Liberation Serif&quot;,&quot;Times New Roman&quot;,serif;font-weight:bold;font-size:74.5px">300</text>
<text transform="translate(1192.60,1575.4) scale(1,1.035)" text-anchor="middle" style="font-family:&quot;Liberation Serif&quot;,&quot;Times New Roman&quot;,serif;font-weight:bold;font-size:74.5px">330</text>
<text transform="translate(1411.83,1575.4) scale(1,1.035)" text-anchor="middle" style="font-family:&quot;Liberation Serif&quot;,&quot;Times New Roman&quot;,serif;font-weight:bold;font-size:74.5px">360</text>
<text transform="translate(1631.05,1575.4) scale(1,1.035)" text-anchor="middle" style="font-family:&quot;Liberation Serif&quot;,&quot;Times New Roman&quot;,serif;font-weight:bold;font-size:74.5px">390</text>
<text transform="translate(1850.28,1575.4) scale(1,1.035)" text-anchor="middle" style="font-family:&quot;Liberation Serif&quot;,&quot;Times New Roman&quot;,serif;font-weight:bold;font-size:74.5px">420</text>
<text transform="translate(2069.50,1575.4) scale(1,1.035)" text-anchor="middle" style="font-family:&quot;Liberation Serif&quot;,&quot;Times New Roman&quot;,serif;font-weight:bold;font-size:74.5px">450</text>
<text transform="translate(1193.5,1718.6) scale(1.003,1.035)" text-anchor="middle" style="font-family:&quot;Liberation Serif&quot;,&quot;Times New Roman&quot;,serif;font-weight:bold;font-size:94px">Wavenumber (nm)</text>
<text transform="translate(93,719.3) rotate(-90) scale(0.9915,1.015)" x="0" y="0" text-anchor="middle" style="font-family:&quot;Liberation Serif&quot;,&quot;Times New Roman&quot;,serif;font-weight:bold;font-size:94px">Absorbance</text>
<path d="M1040.80,304.50H1203.50" stroke="#525252" stroke-width="7" stroke-linecap="round"/>
<text transform="translate(1220.80,329.00) scale(1,1.01)" xml:space="preserve" style="font-family:&quot;Liberation Serif&quot;,&quot;Times New Roman&quot;,serif;font-weight:normal;font-size:74.8px;white-space:pre">0   mg/L</text>
<path d="M1565.20,304.50H1727.80" stroke="#F54343" stroke-width="7" stroke-linecap="round"/>
<text transform="translate(1746.30,329.00) scale(1,1.01)" xml:space="preserve" style="font-family:&quot;Liberation Serif&quot;,&quot;Times New Roman&quot;,serif;font-weight:normal;font-size:74.8px;white-space:pre">25  mg/L</text>
<path d="M1040.80,394.50H1203.50" stroke="#196CE0" stroke-width="7" stroke-linecap="round"/>
<text transform="translate(1220.80,419.00) scale(1,1.01)" xml:space="preserve" style="font-family:&quot;Liberation Serif&quot;,&quot;Times New Roman&quot;,serif;font-weight:normal;font-size:74.8px;white-space:pre">50  mg/L</text>
<path d="M1565.20,394.50H1727.80" stroke="#32AD6C" stroke-width="7" stroke-linecap="round"/>
<text transform="translate(1746.30,419.00) scale(1,1.01)" xml:space="preserve" style="font-family:&quot;Liberation Serif&quot;,&quot;Times New Roman&quot;,serif;font-weight:normal;font-size:74.8px;white-space:pre">100 mg/L</text>
<path d="M1040.80,484.50H1203.50" stroke="#B475DE" stroke-width="7" stroke-linecap="round"/>
<text transform="translate(1220.80,509.00) scale(1,1.01)" xml:space="preserve" style="font-family:&quot;Liberation Serif&quot;,&quot;Times New Roman&quot;,serif;font-weight:normal;font-size:74.8px;white-space:pre">200 mg/L</text>
<path d="M1565.20,484.50H1727.80" stroke="#CC9C02" stroke-width="7" stroke-linecap="round"/>
<text transform="translate(1746.30,509.00) scale(1,1.01)" xml:space="preserve" style="font-family:&quot;Liberation Serif&quot;,&quot;Times New Roman&quot;,serif;font-weight:normal;font-size:74.8px;white-space:pre">300 mg/L</text>
</svg>
</body></html>
